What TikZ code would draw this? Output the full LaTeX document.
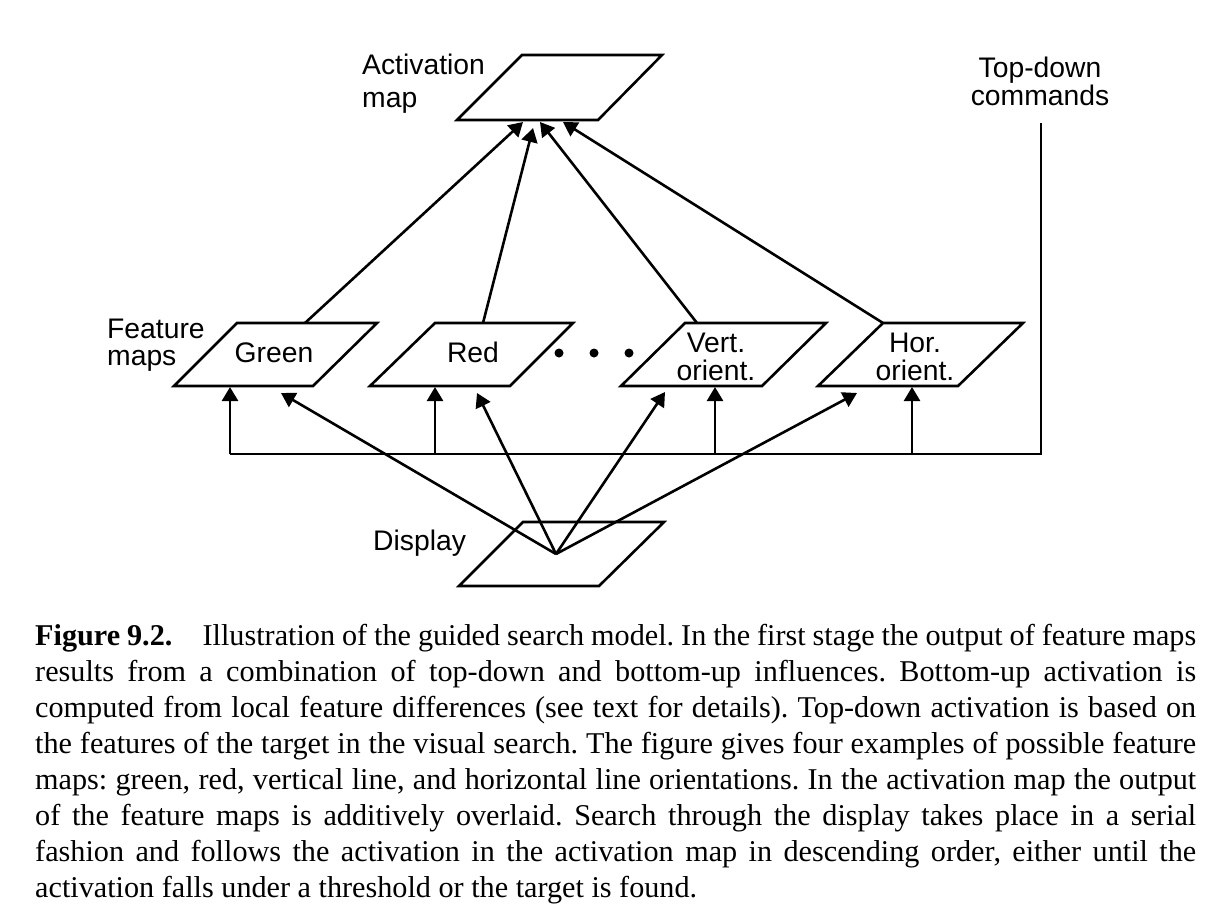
\documentclass[tikz,border=0pt]{standalone}
\usepackage{fontspec}
\setmainfont{Liberation Serif}
\setsansfont{Liberation Sans}
\usetikzlibrary{arrows.meta}
\frenchspacing
\begin{document}
\begin{tikzpicture}[x=1pt,y=-1pt,
  mapbox/.style={draw, line width=2.6pt, line join=miter},
  lbl/.style={font=\sffamily\fontsize{28.3}{28}\selectfont, inner sep=0pt},
  conn/.style={line width=2.6pt},
  arr/.style={conn, -{Triangle[length=14pt,width=16pt]}},
  dot/.style={fill=black}
  ]
\useasboundingbox (0,0) rectangle (1220,922);

% parallelogram maps
\draw[mapbox] (457,120) -- (598,120) -- (662,55) -- (522,55) -- cycle;   % activation
\draw[mapbox] (174,386) -- (313,386) -- (377,323) -- (237,323) -- cycle; % green
\draw[mapbox] (370,386) -- (510,386) -- (573,323) -- (435,323) -- cycle; % red
\draw[mapbox] (621,386) -- (762,386) -- (826,323) -- (685,323) -- cycle; % vert
\draw[mapbox] (818,386) -- (958,386) -- (1023,323) -- (883,323) -- cycle; % hor
\draw[mapbox] (459,586) -- (599,586) -- (664,522) -- (523,522) -- cycle; % display

% labels
\node[lbl, anchor=base west] (actlbl1) at (362,74) {Activation};
\node[lbl, anchor=base west] (actlbl2) at (362,107) {map};
\node[lbl, anchor=base] (tdlbl1) at (1040,77) {Top-down};
\node[lbl, anchor=base] (tdlbl2) at (1040,105) {commands};
\node[lbl, anchor=base west] (fmlbl1) at (107,338) {Feature};
\node[lbl, anchor=base west] (fmlbl2) at (107,365) {maps};
\node[lbl, anchor=base] (green) at (274,362) {Green};
\node[lbl, anchor=base] (red) at (473,362) {Red};
\node[lbl, anchor=base] (vert1) at (716,352) {Vert.};
\node[lbl, anchor=base] (vert2) at (716,380) {orient.};
\node[lbl, anchor=base] (hor1) at (915,352) {Hor.};
\node[lbl, anchor=base] (hor2) at (915,380) {orient.};
\node[lbl, anchor=base west] (displbl) at (373,550) {Display};

% dots
\fill[dot] (559,353) circle (4.5);
\fill[dot] (594,353) circle (4.5);
\fill[dot] (629,353) circle (4.5);

% connection points
\coordinate (actG) at (523,122);
\coordinate (actR) at (533,128);
\coordinate (actV) at (540,122);
\coordinate (actH) at (563,122);
\coordinate (gTop) at (305,323);
\coordinate (rTop) at (483,323);
\coordinate (vTop) at (697,323);
\coordinate (hTop) at (883,323);
\coordinate (disp) at (556,554);
\coordinate (gIn) at (281,393);
\coordinate (rIn) at (477,393);
\coordinate (vIn) at (665,392);
\coordinate (hIn) at (857,393);
\coordinate (tdTop) at (1041,123);
\coordinate (tdCorner) at (1041,454);
\coordinate (busG) at (230,454);
\coordinate (busR) at (435,454);
\coordinate (busV) at (715,454);
\coordinate (busH) at (912,454);
\coordinate (gBot) at (230,387);
\coordinate (rBot) at (435,387);
\coordinate (vBot) at (715,387);
\coordinate (hBot) at (912,387);

% feature maps to activation map
\draw[arr] (gTop) -- (actG);
\draw[arr] (rTop) -- (actR);
\draw[arr] (vTop) -- (actV);
\draw[arr] (hTop) -- (actH);

% display to feature maps
\draw[arr] (disp) -- (gIn);
\draw[arr] (disp) -- (rIn);
\draw[arr] (disp) -- (vIn);
\draw[arr] (disp) -- (hIn);

% top-down commands
\draw[conn, line join=miter] (tdTop) -- (tdCorner) -- (busG);
\draw[arr] (busG) -- (gBot);
\draw[arr] (busR) -- (rBot);
\draw[arr] (busV) -- (vBot);
\draw[arr] (busH) -- (hBot);

% caption
\node[anchor=north west, inner sep=0pt, text width=1161pt, align=justify,
      font=\fontsize{30.2}{36}\selectfont] (caption) at (35,624) {%
\hyphenpenalty=10000\exhyphenpenalty=10000%
\textbf{Figure 9.2.}\quad Illustration of the guided search model. In the first stage the output of feature maps\linebreak
results from a combination of top-down and bottom-up influences. Bottom-up activation is\linebreak
computed from local feature differences (see text for details). Top-down activation is based on\linebreak
the features of the target in the visual search. The figure gives four examples of possible feature\linebreak
maps: green, red, vertical line, and horizontal line orientations. In the activation map the output\linebreak
of the feature maps is additively overlaid. Search through the display takes place in a serial\linebreak
fashion and follows the activation in the activation map in descending order, either until the\linebreak
activation falls under a threshold or the target is found.};
\end{tikzpicture}
\end{document}
